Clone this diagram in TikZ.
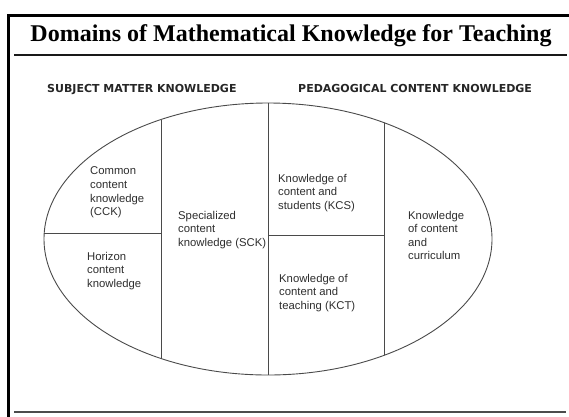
\documentclass[tikz,border=0pt]{standalone}
\usepackage{fontspec}
\setmainfont{Liberation Sans}
\newfontfamily\titlefont{Liberation Serif}
\newfontfamily\headfont{DejaVu Sans}
\usetikzlibrary{shapes.geometric}
\definecolor{linegray}{HTML}{4A4A4A}
\definecolor{textgray}{HTML}{2E2E2E}
\tikzset{
  frameline/.style={line width=3pt, black},
  rule/.style={line width=2.2pt, black!90},
  thinrule/.style={line width=1.2pt, black!70},
  divider/.style={line width=0.8pt, linegray},
  bodytext/.style={anchor=north west, inner sep=0pt, align=left, text=textgray,
    font=\fontsize{11.3}{13.6}\selectfont},
  headtext/.style={anchor=base west, inner sep=0pt, text=black!85,
    font=\headfont\bfseries\fontsize{11}{13}\selectfont},
}
\begin{document}
\begin{tikzpicture}[x=1pt,y=-1pt]
\useasboundingbox[fill=white] (0,0) rectangle (569,416);
% frame
\draw[frameline] (8,418) -- (8,15) -- (571,15);
\draw[rule] (14,55) -- (567,55);
\draw[thinrule] (14,412) -- (566,412);
% title
\node[anchor=base, inner sep=0pt, font=\titlefont\bfseries\fontsize{24}{28}\selectfont] (title) at (291,41) {Domains of Mathematical Knowledge for Teaching};
% headings
\node[headtext] (smk) at (47,92) {SUBJECT MATTER KNOWLEDGE};
\node[headtext] (pck) at (298,92) {PEDAGOGICAL CONTENT KNOWLEDGE};
% ellipse
\node[draw=linegray, line width=0.9pt, ellipse, minimum width=448pt, minimum height=272pt, inner sep=0pt] (ell) at (268,239) {};
% dividers
\coordinate (v1t) at (161,119.5);
\coordinate (v1b) at (161,358.5);
\coordinate (v3t) at (384,122.7);
\coordinate (v3b) at (384,355.3);
\coordinate (h1r) at (161,233);
\coordinate (h2l) at (268,235);
\coordinate (h2r) at (384,235);
\draw[divider] (v1t) -- (v1b);
\draw[divider] (ell.north) -- (ell.south);
\draw[divider] (v3t) -- (v3b);
\draw[divider] (ell.west |- h1r) -- (h1r);
\draw[divider] (h2l) -- (h2r);
% texts
\node[bodytext] (cck) at (90,166.8) {Common\\content\\knowledge\\(CCK)};
\node[bodytext] (hck) at (87,251.8) {Horizon\\content\\knowledge};
\node[bodytext] (sck) at (178,210.8) {Specialized\\content\\knowledge (SCK)};
\node[bodytext] (kcs) at (278,173.8) {Knowledge of\\content and\\students (KCS)};
\node[bodytext] (kct) at (279,273.8) {Knowledge of\\content and\\teaching (KCT)};
\node[bodytext] (kcc) at (408,210.8) {Knowledge\\of content\\and\\curriculum};
\end{tikzpicture}
\end{document}
